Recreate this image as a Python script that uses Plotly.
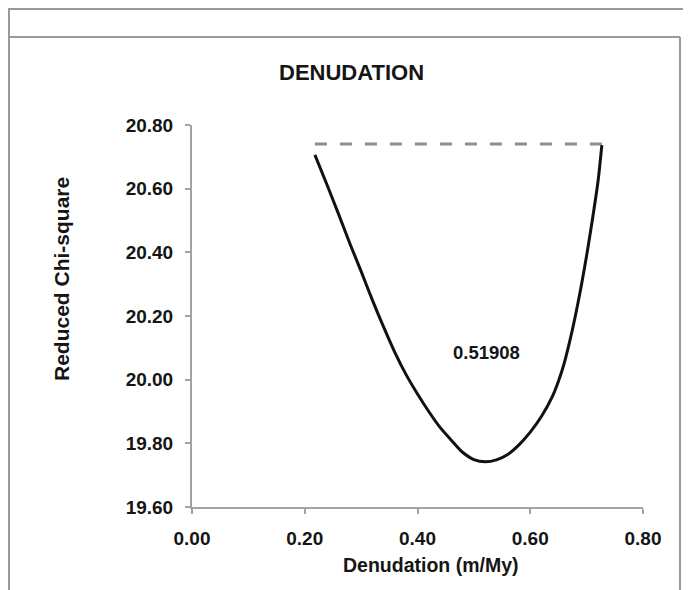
import plotly.graph_objects as go

# ---- data ----
denudation = [0.218, 0.24, 0.26, 0.28, 0.30, 0.32, 0.34, 0.36, 0.38, 0.40, 0.42, 0.44,
              0.46, 0.48, 0.50, 0.52, 0.54, 0.56, 0.58, 0.60, 0.62, 0.64, 0.65, 0.66,
              0.67, 0.68, 0.69, 0.70, 0.71, 0.72, 0.727]
chi_square = [20.706, 20.61, 20.52, 20.428, 20.34, 20.25, 20.165, 20.085, 20.015, 19.955,
              19.90, 19.85, 19.81, 19.772, 19.749, 19.742, 19.748, 19.765, 19.795, 19.835,
              19.885, 19.95, 19.995, 20.05, 20.12, 20.20, 20.29, 20.39, 20.50, 20.62, 20.737]
threshold_x = [0.218, 0.727]
threshold_y = [20.74, 20.74]
best_fit_label = "0.51908"
best_fit_pos = (0.523, 20.085)
x_ticks = [0.0, 0.2, 0.4, 0.6, 0.8]
y_ticks = [19.6, 19.8, 20.0, 20.2, 20.4, 20.6, 20.8]

# page body adds an 8px offset; the figure is sized to fit the window after it
OFF = 8
W, H = 691 - OFF, 590 - OFF
L, R, T, B = 184, 48, 117, 83
pw, ph = W - L - R, H - T - B


def px(xw):  # window pixel x -> paper
    return (xw - OFF - L) / pw


def py(yw):  # window pixel y -> paper
    return (H - B - (yw - OFF)) / ph


FONT = "Liberation Sans, Arial, sans-serif"
TXT = "#151515"
AX = "#a3a3a3"

fig = go.Figure()
fig.add_trace(go.Scatter(x=threshold_x, y=threshold_y, mode="lines",
                         line=dict(color="#8e8e8e", width=3, dash="12px,13px"),
                         showlegend=False, hoverinfo="skip"))
fig.add_trace(go.Scatter(x=denudation, y=chi_square, mode="lines",
                         line=dict(color="#111111", width=3, shape="spline", smoothing=0.8),
                         showlegend=False))

axis_common = dict(showgrid=False, zeroline=False, showline=True, linecolor=AX, linewidth=2,
                   ticks="outside", ticklen=5, tickwidth=2, tickcolor=AX,
                   tickfont=dict(family=FONT, size=19, color=TXT, weight="bold"),
                   tickformat=".2f", ticklabelstandoff=8)

fig.update_xaxes(range=[0, 0.8], tickvals=x_ticks, **axis_common)
fig.update_yaxes(range=[19.6, 20.8], tickvals=y_ticks, **axis_common)

annotations = [
    dict(text="DENUDATION", x=px(351), y=py(72), size=22),
    dict(text="Denudation (m/My)", x=px(431), y=py(565), size=19.5),
    dict(text="Reduced Chi-square", x=px(61), y=py(279), size=21, textangle=-90),
]
ann = []
for a in annotations:
    ann.append(dict(text=a["text"], x=a["x"], y=a["y"], xref="paper", yref="paper",
                    showarrow=False, xanchor="center", yanchor="middle",
                    textangle=a.get("textangle", 0),
                    font=dict(family=FONT, size=a["size"], color=TXT, weight="bold")))
ann.append(dict(text=best_fit_label, x=best_fit_pos[0], y=best_fit_pos[1], xref="x", yref="y",
                showarrow=False, xanchor="center", yanchor="middle",
                font=dict(family=FONT, size=18.5, color=TXT, weight="bold")))

# frame lines of the surrounding window (window pixel coords)
frame = [
    (OFF, OFF + 1, 691, OFF + 1),
    (OFF + 1, OFF, OFF + 1, 590),
    (OFF + 1, 37, 680, 37),
    (680, 37, 680, 590),
]
shapes = []
for x0, y0, x1, y1 in frame:
    shapes.append(dict(type="line", xref="paper", yref="paper",
                       x0=px(x0), y0=py(y0), x1=px(x1), y1=py(y1),
                       line=dict(color="#9a9a9a", width=2)))

fig.update_layout(width=W, height=H, margin=dict(l=L, r=R, t=T, b=B),
                  paper_bgcolor="white", plot_bgcolor="white",
                  annotations=ann, shapes=shapes, showlegend=False)

fig.write_html("out.html")
